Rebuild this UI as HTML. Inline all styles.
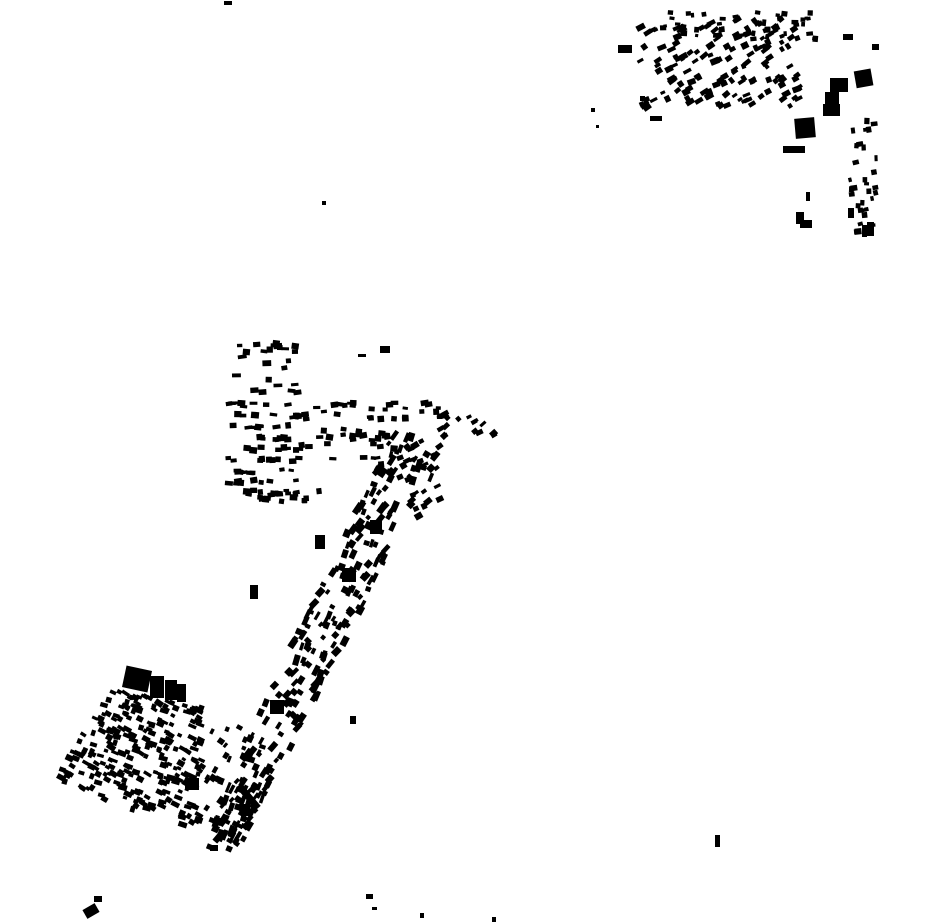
<!DOCTYPE html>
<html><head><meta charset="utf-8"><style>
html,body{margin:0;padding:0;background:#fff;width:930px;height:924px;overflow:hidden}
svg{display:block}
</style></head><body>
<svg id="s" width="930" height="924" xmlns="http://www.w3.org/2000/svg">
<g fill="#000">
<rect x="855" y="70" width="17" height="17" transform="rotate(-10 863 78)"/>
<rect x="830" y="78" width="18" height="14"/>
<rect x="825" y="92" width="14" height="12"/>
<rect x="823" y="104" width="17" height="12"/>
<rect x="795" y="118" width="20" height="20" transform="rotate(-5 805 128)"/>
<rect x="783" y="146" width="22" height="7"/>
<rect x="618" y="45" width="14" height="8"/>
<rect x="796" y="212" width="8" height="12"/>
<rect x="800" y="220" width="12" height="8"/>
<rect x="806" y="192" width="4" height="9"/>
<rect x="843" y="34" width="10" height="6"/>
<rect x="872" y="44" width="7" height="6"/>
<rect x="124" y="668" width="26" height="22" transform="rotate(12 137 679)"/>
<rect x="150" y="676" width="14" height="22"/>
<rect x="165" y="680" width="12" height="20"/>
<rect x="177" y="684" width="9" height="18"/>
<rect x="233" y="793" width="30" height="7" transform="rotate(50 248 797)"/>
<rect x="185" y="778" width="14" height="12"/>
<rect x="342" y="568" width="14" height="14"/>
<rect x="370" y="520" width="12" height="14"/>
<rect x="715" y="835" width="5" height="12"/>
<rect x="84" y="906" width="14" height="10" transform="rotate(-30 91 911)"/>
<rect x="94" y="896" width="8" height="6"/>
<rect x="366" y="894" width="7" height="5"/>
<rect x="372" y="907" width="5" height="3"/>
<rect x="420" y="913" width="4" height="5"/>
<rect x="492" y="917" width="4" height="5"/>
<rect x="350" y="716" width="6" height="8"/>
<rect x="322" y="201" width="4" height="4"/>
<rect x="224" y="1" width="8" height="4"/>
<rect x="591" y="108" width="4" height="4"/>
<rect x="596" y="125" width="3" height="3"/>
<rect x="650" y="116" width="12" height="5"/>
<rect x="640" y="96" width="5" height="5"/>
<rect x="380" y="346" width="10" height="7"/>
<rect x="358" y="354" width="8" height="3"/>
<rect x="242" y="804" width="8" height="12"/>
<rect x="210" y="845" width="8" height="6"/>
<rect x="862" y="225" width="5" height="12"/>
<rect x="867" y="222" width="7" height="14"/>
<rect x="848" y="208" width="6" height="10"/>
<rect x="270" y="700" width="14" height="14"/>
<rect x="315" y="535" width="10" height="14"/>
<rect x="250" y="585" width="8" height="14"/>
</g>
<g id="gen" fill="#000"></g>
</svg>
<script>
var seed=12345;function r(){seed=(seed*1103515245+12345)%2147483648;return seed/2147483648;}
var g=document.getElementById('gen'),out='';
function add(x,y,w,h,a){out+='<rect x="'+(x-w/2).toFixed(1)+'" y="'+(y-h/2).toFixed(1)+'" width="'+w.toFixed(1)+'" height="'+h.toFixed(1)+'" transform="rotate('+a.toFixed(0)+' '+x.toFixed(1)+' '+y.toFixed(1)+')"/>';}
function box(x0,y0,x1,y1,n,smin,smax,ang){for(var i=0;i<n;i++){add(x0+r()*(x1-x0),y0+r()*(y1-y0),smin+r()*(smax-smin),3+r()*3.5,ang+(r()-0.5)*20);}}
box(640,18,800,108,150,4,9,-30);
box(660,10,820,40,40,3,7,0);
box(850,120,878,235,32,3,7,-5);
box(236,342,300,395,24,5,9,0);
for(var yy=405;yy<=495;yy+=11){box(228,yy-2,300,yy+2,9,5,8,0);}
box(300,402,445,420,30,5,8,0);
box(300,425,400,465,26,5,8,0);
box(230,490,320,502,14,5,8,0);
box(440,410,495,440,16,4,8,-35);
box(400,440,440,520,25,5,8,-30);
var ax=420,ay=440,bx=218,by=845;
for(var i=0;i<260;i++){var t=r();var off=(r()-0.5)*55*(1-0.3*t);
var dx=bx-ax,dy=by-ay,L=Math.sqrt(dx*dx+dy*dy);var nx=-dy/L,ny=dx/L;
add(ax+dx*t+nx*off,ay+dy*t+ny*off,4+r()*7,3+r()*4,-60+(r()-0.5)*30);}
var P=[[110,690],[205,705],[200,830],[52,785]];
for(var i=0;i<260;i++){var u=r(),v=r();
var x=(1-u)*(1-v)*P[0][0]+u*(1-v)*P[1][0]+u*v*P[2][0]+(1-u)*v*P[3][0];
var y=(1-u)*(1-v)*P[0][1]+u*(1-v)*P[1][1]+u*v*P[2][1]+(1-u)*v*P[3][1];
add(x,y,4+r()*5,3+r()*3,25+(r()-0.5)*20);}
box(205,700,245,850,30,4,7,-60);
g.innerHTML=out;
</script>
</body></html>
